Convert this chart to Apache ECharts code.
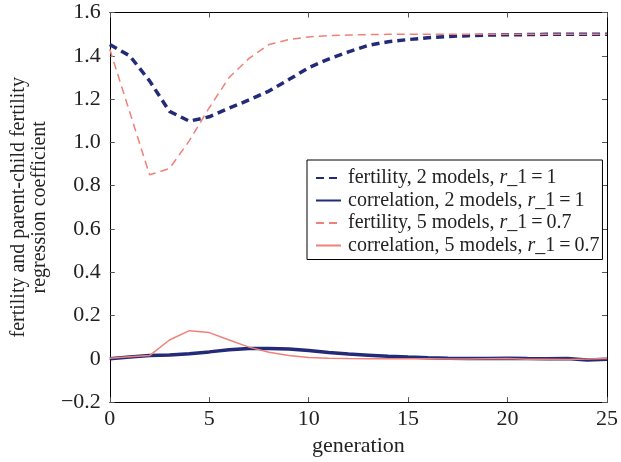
<!DOCTYPE html>
<html>
<head>
<meta charset="utf-8">
<script src="https://cdn.jsdelivr.net/npm/echarts@6/dist/echarts.min.js"></script>
<style>html,body{margin:0;padding:0;background:#fff;}#c{width:621px;height:462px;}</style>
</head>
<body>
<div id="c"></div>
<script>
const generations = [0,1,2,3,4,5,6,7,8,9,10,11,12,13,14,15,16,17,18,19,20,21,22,23,24,25];
const fertility2 = [1.452,1.400,1.284,1.143,1.098,1.118,1.158,1.196,1.237,1.290,1.345,1.385,1.418,1.448,1.465,1.475,1.483,1.489,1.493,1.496,1.497,1.498,1.499,1.500,1.500,1.500];
const correlation2 = [0.000,0.008,0.015,0.018,0.023,0.032,0.042,0.048,0.048,0.045,0.038,0.029,0.022,0.017,0.012,0.008,0.005,0.003,0.002,0.002,0.003,0.001,0.000,0.001,-0.006,-0.002];
const fertility5 = [1.430,1.140,0.850,0.879,1.008,1.160,1.300,1.388,1.452,1.475,1.487,1.493,1.496,1.498,1.499,1.500,1.500,1.500,1.500,1.500,1.500,1.500,1.500,1.500,1.500,1.500];
const correlation5 = [0.003,0.010,0.015,0.087,0.130,0.121,0.087,0.054,0.030,0.015,0.006,0.003,0.001,0.000,0.000,0.000,0.000,-0.001,-0.001,0.000,0.001,-0.002,-0.002,-0.003,-0.001,0.002];
const seriesNames = ['fertility, 2 models, r_1 = 1','correlation, 2 models, r_1 = 1','fertility, 5 models, r_1 = 0.7','correlation, 5 models, r_1 = 0.7'];
const xTicks = {min:0, max:25, interval:5};
const yTicks = {min:-0.2, max:1.6, interval:0.2};

const NAVY = '#232a78', RED = '#f08078';
const FONT = '"Liberation Serif","Times New Roman",serif';
const chart = echarts.init(document.getElementById('c'), null, {renderer:'canvas'});
const pairs = a => generations.map((g,i)=>[g,a[i]]);
function yfmt(v){ if (Math.abs(v)<1e-9) return '0'; return (v<0?'\u2212':'') + Math.abs(v).toFixed(1); }
const axisLine = {show:true, onZero:false, lineStyle:{color:'#000', width:1}};
const tick = {show:true, inside:true, length:5, lineStyle:{color:'#555', width:1}};
chart.setOption({
  animation:false,
  backgroundColor:'#fff',
  grid:{left:96, right:13, top:12.5, bottom:52, containLabel:false},
  xAxis:[
    {type:'value', min:xTicks.min, max:xTicks.max, interval:xTicks.interval, position:'bottom',
     name:'generation', nameLocation:'middle', nameGap:32,
     nameTextStyle:{fontFamily:FONT, fontSize:22, color:'#222'},
     axisLine:axisLine, axisTick:tick, splitLine:{show:false},
     axisLabel:{fontFamily:FONT, fontSize:22, color:'#222', margin:6}},
    {type:'value', min:xTicks.min, max:xTicks.max, interval:xTicks.interval, position:'top',
     axisLine:axisLine, axisTick:tick, splitLine:{show:false}, axisLabel:{show:false}}
  ],
  yAxis:[
    {type:'value', min:yTicks.min, max:yTicks.max, interval:yTicks.interval, position:'left',
     name:'fertility and parent-child fertility\nregression coefficient', nameLocation:'middle', nameGap:58, nameRotate:90,
     nameTextStyle:{fontFamily:FONT, fontSize:20, color:'#222', lineHeight:21},
     axisLine:axisLine, axisTick:tick, splitLine:{show:false},
     axisLabel:{fontFamily:FONT, fontSize:22, color:'#222', margin:9, formatter:yfmt}},
    {type:'value', min:yTicks.min, max:yTicks.max, interval:yTicks.interval, position:'right',
     axisLine:axisLine, axisTick:tick, splitLine:{show:false}, axisLabel:{show:false}}
  ],
  legend:{
    orient:'vertical', left:307, top:160,
    padding:[8,3,4,8], itemGap:2.5, itemWidth:25, itemHeight:20,
    borderColor:'#000', borderWidth:1, backgroundColor:'#fff', borderRadius:0,
    itemStyle:{opacity:0},
    data:seriesNames,
    formatter:function(n){
      const m = n.match(/^(.*), r_1 = (.*)$/);
      return '{n|' + m[1] + ', }{i|r}{n|_1\u2009=\u2009' + m[2] + '}';
    },
    textStyle:{fontFamily:FONT, fontSize:20, color:'#222', padding:[0,0,0,2],
      rich:{n:{fontFamily:FONT, fontSize:20, color:'#222'}, i:{fontFamily:FONT, fontSize:20, fontStyle:'italic', color:'#222'}}}
  },
  series:[
    {name:seriesNames[0], type:'line', data:pairs(fertility2), symbol:'none', smooth:false,
     lineStyle:{color:NAVY, width:3.5, type:[8,5]}, itemStyle:{color:NAVY}},
    {name:seriesNames[1], type:'line', data:pairs(correlation2), symbol:'none', smooth:false,
     lineStyle:{color:NAVY, width:3.5, type:'solid'}, itemStyle:{color:NAVY}},
    {name:seriesNames[2], type:'line', data:pairs(fertility5), symbol:'none', smooth:false,
     lineStyle:{color:RED, width:1.5, type:[8,5]}, itemStyle:{color:RED}},
    {name:seriesNames[3], type:'line', data:pairs(correlation5), symbol:'none', smooth:false,
     lineStyle:{color:RED, width:1.5, type:'solid'}, itemStyle:{color:RED}}
  ]
});
</script>
</body>
</html>
